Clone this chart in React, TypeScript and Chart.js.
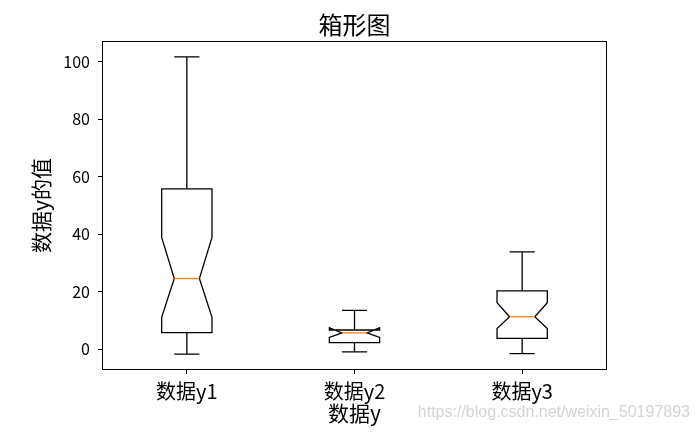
import React, { useEffect, useRef } from 'react';
import { Chart, registerables } from 'chart.js';

Chart.register(...registerables);

const categories = ['数据y1', '数据y2', '数据y3'];
const whiskerLow = [-1.7, -0.9, -1.5];
const q1 = [5.8, 2.3, 3.8];
const notchLow = [11.1, 4.1, 7.2];
const median = [24.6, 5.7, 11.3];
const notchHigh = [38.9, 7.5, 16.2];
const q3 = [55.8, 6.7, 20.3];
const whiskerHigh = [101.7, 13.5, 33.9];
const yTicks = [0, 20, 40, 60, 80, 100];

const BOX_WIDTH = 0.3; // in category units
const FONT = "'Noto Sans CJK SC', 'Noto Sans', sans-serif";

const boxPlugin = {
  id: 'notchedBox',
  afterDatasetsDraw(chart: any) {
    const { ctx, chartArea, scales } = chart;
    const x = scales.x;
    const y = scales.y;
    const unit = x.getPixelForValue(1) - x.getPixelForValue(0);
    const Y = (v: number) => y.getPixelForValue(v);
    ctx.save();
    ctx.lineJoin = 'miter';
    categories.forEach((_, i) => {
      const cx = x.getPixelForValue(i);
      const hw = (BOX_WIDTH / 2) * unit;
      const nw = hw / 2;
      const cw = hw / 2;
      ctx.strokeStyle = '#000';
      ctx.lineWidth = 1.3;
      const pts: [number, number][] = [
        [cx - hw, q1[i]],
        [cx + hw, q1[i]],
        [cx + hw, notchLow[i]],
        [cx + nw, median[i]],
        [cx + hw, notchHigh[i]],
        [cx + hw, q3[i]],
        [cx - hw, q3[i]],
        [cx - hw, notchHigh[i]],
        [cx - nw, median[i]],
        [cx - hw, notchLow[i]],
      ];
      ctx.beginPath();
      pts.forEach(([px, v], k) => {
        if (k === 0) ctx.moveTo(px, Y(v));
        else ctx.lineTo(px, Y(v));
      });
      ctx.closePath();
      ctx.stroke();
      // whiskers
      ctx.beginPath();
      ctx.moveTo(cx, Y(q1[i]));
      ctx.lineTo(cx, Y(whiskerLow[i]));
      ctx.moveTo(cx, Y(q3[i]));
      ctx.lineTo(cx, Y(whiskerHigh[i]));
      // caps
      ctx.moveTo(cx - cw, Y(whiskerLow[i]));
      ctx.lineTo(cx + cw, Y(whiskerLow[i]));
      ctx.moveTo(cx - cw, Y(whiskerHigh[i]));
      ctx.lineTo(cx + cw, Y(whiskerHigh[i]));
      ctx.stroke();
      // median
      ctx.strokeStyle = '#ff7f0e';
      ctx.beginPath();
      ctx.moveTo(cx - nw, Y(median[i]));
      ctx.lineTo(cx + nw, Y(median[i]));
      ctx.stroke();
    });
    // frame
    ctx.strokeStyle = '#000';
    ctx.lineWidth = 1;
    ctx.strokeRect(
      Math.round(chartArea.left) - 0.5,
      Math.round(chartArea.top) - 0.5,
      Math.round(chartArea.right - chartArea.left) + 1,
      Math.round(chartArea.bottom - chartArea.top) + 1
    );
    // watermark
    ctx.fillStyle = '#d4d4d4';
    ctx.font = "16px 'Liberation Sans', Arial, sans-serif";
    ctx.textAlign = 'right';
    ctx.textBaseline = 'middle';
    ctx.fillText('https://blog.csdn.net/weixin_50197893', chart.width - 6, 413);
    ctx.restore();
  },
};

export default function App() {
  const canvasRef = useRef<HTMLCanvasElement | null>(null);

  useEffect(() => {
    document.body.style.margin = '0';
    const canvas = canvasRef.current;
    if (!canvas) return;
    const chart = new Chart(canvas, {
      type: 'bar',
      data: {
        labels: categories,
        datasets: [
          {
            label: 'box',
            data: categories.map((_, i) => [q1[i], q3[i]]) as any,
            backgroundColor: 'rgba(0,0,0,0)',
            borderWidth: 0,
          },
        ],
      },
      options: {
        responsive: false,
        animation: false,
        devicePixelRatio: 1,
        events: [],
        layout: { padding: { left: 0, right: 90, top: 0, bottom: 0 } },
        plugins: {
          legend: { display: false },
          tooltip: { enabled: false },
          title: {
            display: true,
            text: '箱形图',
            color: '#000',
            fullSize: false,
            font: { family: FONT, size: 24, weight: 'normal', lineHeight: 1 },
            padding: { top: 13, bottom: 5 },
          },
        },
        scales: {
          x: {
            type: 'category',
            offset: true,
            grid: {
              display: true,
              offset: false,
              drawOnChartArea: false,
              drawTicks: true,
              tickLength: 5,
              color: '#000',
              lineWidth: 1,
            },
            border: { display: false },
            ticks: {
              color: '#000',
              padding: 5,
              font: { family: FONT, size: 20 },
              maxRotation: 0,
              autoSkip: false,
            },
            title: {
              display: true,
              text: '数据y',
              color: '#000',
              font: { family: FONT, size: 21 },
              padding: { top: 0, bottom: 13 },
            },
            afterFit: (scale: any) => {
              scale.height = 70;
            },
          },
          y: {
            type: 'linear',
            min: -6.87,
            max: 106.87,
            grid: {
              display: true,
              drawOnChartArea: false,
              drawTicks: true,
              tickLength: 5,
              color: '#000',
              lineWidth: 1,
            },
            border: { display: false },
            afterBuildTicks: (scale: any) => {
              scale.ticks = yTicks.map((v) => ({ value: v }));
            },
            ticks: {
              color: '#000',
              padding: 8,
              font: { family: FONT, size: 16 },
              callback: (v: any) => String(v),
            },
            title: {
              display: true,
              text: '数据y的值',
              color: '#000',
              font: { family: FONT, size: 21 },
              padding: { top: 28, bottom: 0 },
            },
            afterFit: (scale: any) => {
              scale.width = 103;
            },
          },
        },
      },
      plugins: [boxPlugin],
    });
    return () => chart.destroy();
  }, []);

  return (
    <canvas
      ref={canvasRef}
      width={696}
      height={439}
      style={{ display: 'block', width: 696, height: 439 }}
    />
  );
}
